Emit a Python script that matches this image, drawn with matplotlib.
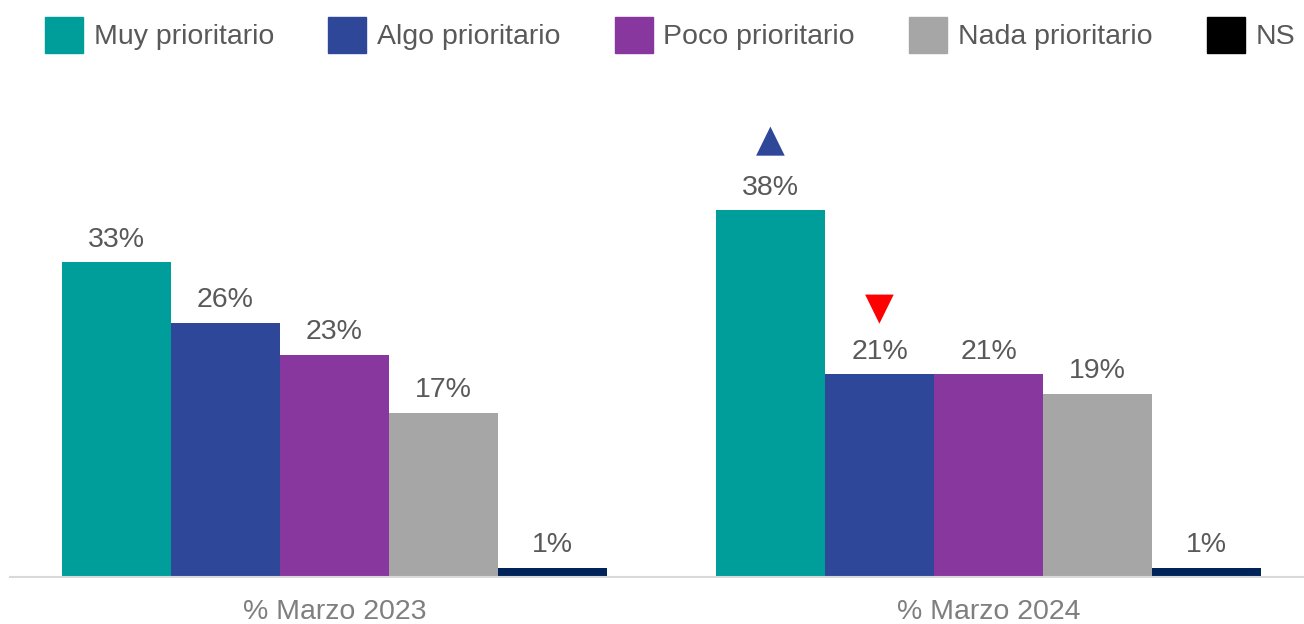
import numpy as np
import matplotlib.pyplot as plt
from matplotlib.patches import Patch

plt.rcParams['font.family'] = ['Liberation Sans', 'DejaVu Sans']

periodos = ['% Marzo 2023', '% Marzo 2024']
series = ['Muy prioritario', 'Algo prioritario', 'Poco prioritario', 'Nada prioritario', 'NS']
colores = ['#009E9A', '#2F4799', '#88379E', '#A6A6A6', '#00245A']
colores_leyenda = ['#009E9A', '#2F4799', '#88379E', '#A6A6A6', '#000000']

valores_2023 = [32.6, 26.3, 23.0, 17.0, 0.95]
valores_2024 = [38.0, 21.0, 21.0, 19.0, 0.95]
etiquetas_2023 = ['33%', '26%', '23%', '17%', '1%']
etiquetas_2024 = ['38%', '21%', '21%', '19%', '1%']

# cambios significativos: (periodo, serie, simbolo, color)
cambios = [(1, 0, '▲', '#2F4799'), (1, 1, '▼', '#FF0000')]

valores = np.array([valores_2023, valores_2024])
etiquetas = [etiquetas_2023, etiquetas_2024]

fig = plt.figure(figsize=(13.04, 6.24), dpi=100)
ax = fig.add_axes([10/1304, 47/624, 1294/1304, 482.5/624])

w = 0.1667
x = np.arange(len(periodos))
for i, s in enumerate(series):
    pos = x + (i - 2)*w
    ax.bar(pos, valores[:, i], width=w, color=colores[i], label=s)
    for j in range(len(periodos)):
        ax.annotate(etiquetas[j][i], (pos[j], valores[j, i]), xytext=(0, 7),
                    textcoords='offset points', ha='center', va='bottom',
                    fontsize=20.5, color='#595959')

desplaz = [50, 47]
for (j, i, simbolo, c), d in zip(cambios, desplaz):
    ax.annotate(simbolo, (x[j] + (i - 2)*w, valores[j, i]), xytext=(0, d),
                textcoords='offset points', ha='center', va='center',
                fontsize=27, color=c, family='DejaVu Sans')

ax.set_xlim(-0.496, 1.482)
ax.set_ylim(0, 50)
ax.set_xticks(x)
ax.set_xticklabels(periodos, fontsize=20.5, color='#7F7F7F')
ax.tick_params(axis='x', length=0, pad=16)
ax.set_yticks([])
for lado in ['top', 'right', 'left']:
    ax.spines[lado].set_visible(False)
ax.spines['bottom'].set_color('#D9D9D9')
ax.spines['bottom'].set_linewidth(1.5)

handles = [Patch(color=c) for c in colores_leyenda]
fig.legend(handles, series, loc='center', ncol=5, mode='expand',
           bbox_to_anchor=(45/1304, 1 - 35/624, 1250/1304, 0), frameon=False,
           fontsize=20.5, labelcolor='#595959', handlelength=1.33,
           handleheight=1.58, handletextpad=0.38, borderaxespad=0, borderpad=0)

fig.savefig('out.png', dpi=100)
